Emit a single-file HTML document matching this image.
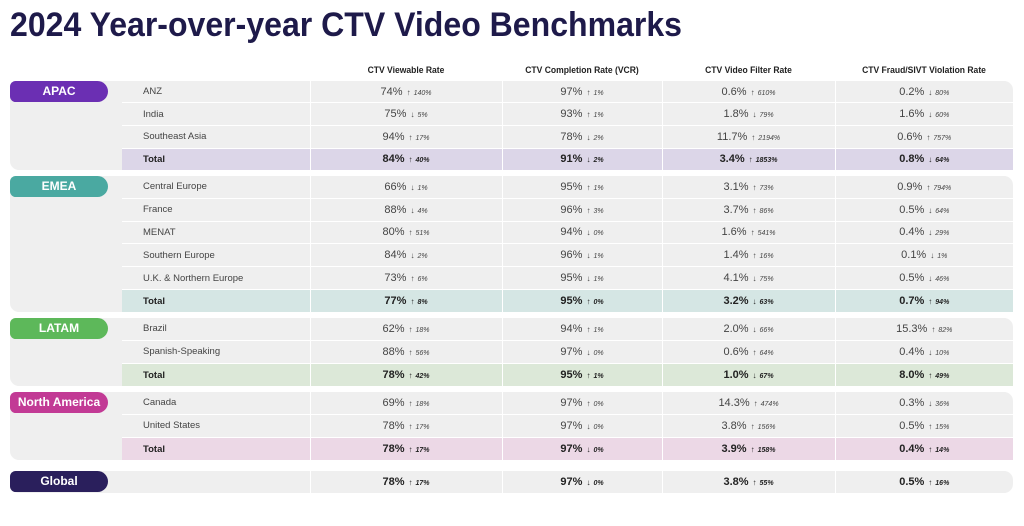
<!DOCTYPE html>
<html><head><meta charset="utf-8"><style>
body{margin:0;width:1024px;height:526px;background:#fff;position:relative;overflow:hidden;font-family:"Liberation Sans",sans-serif;color:#444}
.t{position:absolute;left:8px;top:2px}
.h{position:absolute;top:65px;font-size:9.5px;font-weight:bold;color:#222;text-align:center;transform:scaleX(.9)}
.p{position:absolute;left:10px;width:1003px;background:#efefef;border-radius:9px}
.pill{position:absolute;left:10px;width:98px;height:21px;border-radius:6px 11px 11px 6px;color:#fff;font-weight:bold;font-size:12px;text-align:center;line-height:21px}
table{position:absolute;left:122px;width:891px;border-collapse:collapse;table-layout:fixed}
td{border:1.5px solid #fff;border-top:none;font-size:11px;padding:0;text-align:center;white-space:nowrap}
tr:first-child td{border-top:none}
tr:last-child td{border-bottom:none}
td:first-child{text-align:left;padding-left:21px;border-left:none;font-size:9.5px}
td:last-child{border-right:none}
td i{font-size:7px;margin-left:3px}
td b.a{font-weight:normal;font-size:8px;margin-left:4px}
tr.tot td{font-weight:bold;color:#222}
</style></head><body>
<svg class="t" width="700" height="44"><text x="2" y="34" textLength="672" lengthAdjust="spacingAndGlyphs" font-family="Liberation Sans" font-weight="bold" font-size="34" fill="#1e1a4a">2024 Year-over-year CTV Video Benchmarks</text></svg>
<div class="h" style="left:310px;width:192px">CTV Viewable Rate</div>
<div class="h" style="left:502px;width:160px">CTV Completion Rate (VCR)</div>
<div class="h" style="left:662px;width:173px">CTV Video Filter Rate</div>
<div class="h" style="left:835px;width:178px">CTV Fraud/SIVT Violation Rate</div>

<div class="p" style="top:81px;height:89px"></div>
<div class="pill" style="top:81px;background:#6b2fb3">APAC</div>
<table style="top:81px;height:89px"><colgroup><col style="width:188px"><col style="width:192px"><col style="width:160px"><col style="width:173px"><col style="width:178px"></colgroup>
<tr><td>ANZ</td><td>74%<b class="a">↑</b><i>140%</i></td><td>97%<b class="a">↑</b><i>1%</i></td><td>0.6%<b class="a">↑</b><i>610%</i></td><td>0.2%<b class="a">↓</b><i>80%</i></td></tr>
<tr><td>India</td><td>75%<b class="a">↓</b><i>5%</i></td><td>93%<b class="a">↑</b><i>1%</i></td><td>1.8%<b class="a">↓</b><i>79%</i></td><td>1.6%<b class="a">↓</b><i>60%</i></td></tr>
<tr><td>Southeast Asia</td><td>94%<b class="a">↑</b><i>17%</i></td><td>78%<b class="a">↓</b><i>2%</i></td><td>11.7%<b class="a">↑</b><i>2194%</i></td><td>0.6%<b class="a">↑</b><i>757%</i></td></tr>
<tr class="tot" style="background:#dcd6e8"><td>Total</td><td>84%<b class="a">↑</b><i>40%</i></td><td>91%<b class="a">↓</b><i>2%</i></td><td>3.4%<b class="a">↑</b><i>1853%</i></td><td>0.8%<b class="a">↓</b><i>64%</i></td></tr>
</table>

<div class="p" style="top:176px;height:136px"></div>
<div class="pill" style="top:176px;background:#4aa9a1">EMEA</div>
<table style="top:176px;height:136px"><colgroup><col style="width:188px"><col style="width:192px"><col style="width:160px"><col style="width:173px"><col style="width:178px"></colgroup>
<tr><td>Central Europe</td><td>66%<b class="a">↓</b><i>1%</i></td><td>95%<b class="a">↑</b><i>1%</i></td><td>3.1%<b class="a">↑</b><i>73%</i></td><td>0.9%<b class="a">↑</b><i>794%</i></td></tr>
<tr><td>France</td><td>88%<b class="a">↓</b><i>4%</i></td><td>96%<b class="a">↑</b><i>3%</i></td><td>3.7%<b class="a">↑</b><i>86%</i></td><td>0.5%<b class="a">↓</b><i>64%</i></td></tr>
<tr><td>MENAT</td><td>80%<b class="a">↑</b><i>51%</i></td><td>94%<b class="a">↓</b><i>0%</i></td><td>1.6%<b class="a">↑</b><i>541%</i></td><td>0.4%<b class="a">↓</b><i>29%</i></td></tr>
<tr><td>Southern Europe</td><td>84%<b class="a">↓</b><i>2%</i></td><td>96%<b class="a">↓</b><i>1%</i></td><td>1.4%<b class="a">↑</b><i>16%</i></td><td>0.1%<b class="a">↓</b><i>1%</i></td></tr>
<tr><td>U.K. &amp; Northern Europe</td><td>73%<b class="a">↑</b><i>6%</i></td><td>95%<b class="a">↓</b><i>1%</i></td><td>4.1%<b class="a">↓</b><i>75%</i></td><td>0.5%<b class="a">↓</b><i>46%</i></td></tr>
<tr class="tot" style="background:#d5e6e4"><td>Total</td><td>77%<b class="a">↑</b><i>8%</i></td><td>95%<b class="a">↑</b><i>0%</i></td><td>3.2%<b class="a">↓</b><i>63%</i></td><td>0.7%<b class="a">↑</b><i>94%</i></td></tr>
</table>

<div class="p" style="top:318px;height:68px"></div>
<div class="pill" style="top:318px;background:#5db85a">LATAM</div>
<table style="top:318px;height:68px"><colgroup><col style="width:188px"><col style="width:192px"><col style="width:160px"><col style="width:173px"><col style="width:178px"></colgroup>
<tr><td>Brazil</td><td>62%<b class="a">↑</b><i>18%</i></td><td>94%<b class="a">↑</b><i>1%</i></td><td>2.0%<b class="a">↓</b><i>66%</i></td><td>15.3%<b class="a">↑</b><i>82%</i></td></tr>
<tr><td>Spanish-Speaking</td><td>88%<b class="a">↑</b><i>56%</i></td><td>97%<b class="a">↓</b><i>0%</i></td><td>0.6%<b class="a">↑</b><i>64%</i></td><td>0.4%<b class="a">↓</b><i>10%</i></td></tr>
<tr class="tot" style="background:#dce8d8"><td>Total</td><td>78%<b class="a">↑</b><i>42%</i></td><td>95%<b class="a">↑</b><i>1%</i></td><td>1.0%<b class="a">↓</b><i>67%</i></td><td>8.0%<b class="a">↑</b><i>49%</i></td></tr>
</table>

<div class="p" style="top:392px;height:68px"></div>
<div class="pill" style="top:392px;background:#c23a95">North America</div>
<table style="top:392px;height:68px"><colgroup><col style="width:188px"><col style="width:192px"><col style="width:160px"><col style="width:173px"><col style="width:178px"></colgroup>
<tr><td>Canada</td><td>69%<b class="a">↑</b><i>18%</i></td><td>97%<b class="a">↑</b><i>0%</i></td><td>14.3%<b class="a">↑</b><i>474%</i></td><td>0.3%<b class="a">↓</b><i>36%</i></td></tr>
<tr><td>United States</td><td>78%<b class="a">↑</b><i>17%</i></td><td>97%<b class="a">↓</b><i>0%</i></td><td>3.8%<b class="a">↑</b><i>156%</i></td><td>0.5%<b class="a">↑</b><i>15%</i></td></tr>
<tr class="tot" style="background:#ecd8e6"><td>Total</td><td>78%<b class="a">↑</b><i>17%</i></td><td>97%<b class="a">↓</b><i>0%</i></td><td>3.9%<b class="a">↑</b><i>158%</i></td><td>0.4%<b class="a">↑</b><i>14%</i></td></tr>
</table>

<div class="p" style="top:471px;height:22px"></div>
<div class="pill" style="top:471px;background:#2a1f5c">Global</div>
<table style="top:471px;height:22px"><colgroup><col style="width:188px"><col style="width:192px"><col style="width:160px"><col style="width:173px"><col style="width:178px"></colgroup>
<tr class="tot"><td></td><td>78%<b class="a">↑</b><i>17%</i></td><td>97%<b class="a">↓</b><i>0%</i></td><td>3.8%<b class="a">↑</b><i>55%</i></td><td>0.5%<b class="a">↑</b><i>16%</i></td></tr>
</table>
</body></html>
